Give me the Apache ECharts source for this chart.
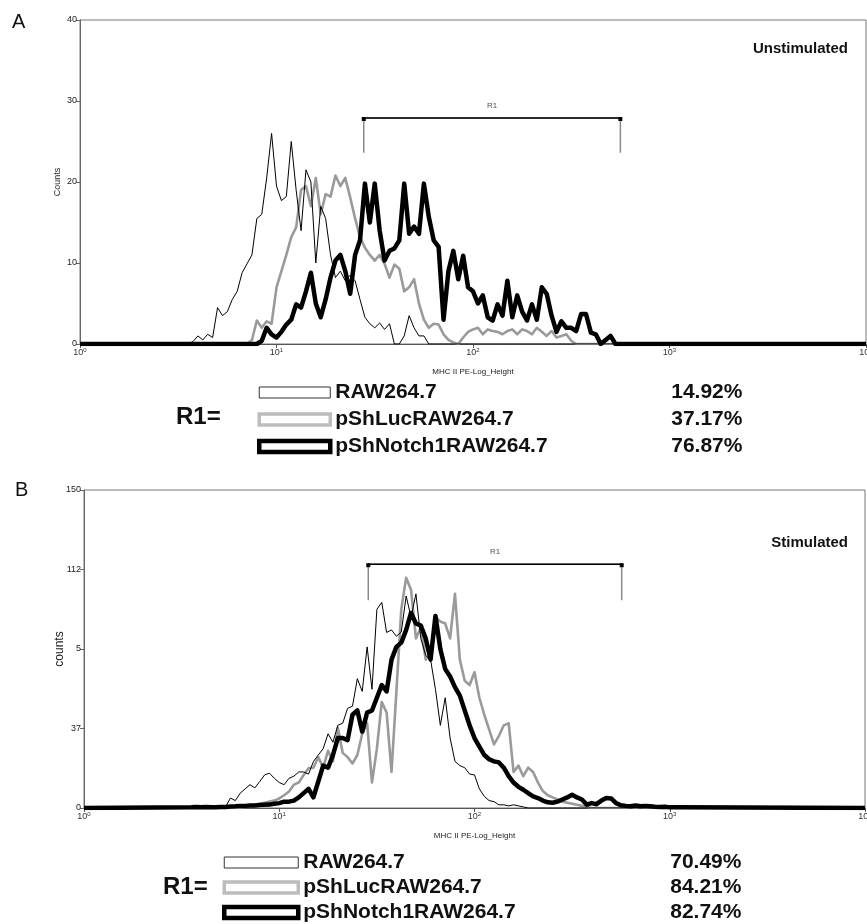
<!DOCTYPE html>
<html>
<head>
<meta charset="utf-8">
<script src="https://cdn.jsdelivr.net/npm/echarts@6/dist/echarts.min.js"></script>
<style>html,body{margin:0;padding:0;background:#fff}#c{width:867px;height:924px}</style>
</head>
<body>
<div id="c"></div>
<script>
// ---- data (x in decades of MHC II PE fluorescence, y in counts) ----
const channels = [0,
 0.55,0.575,0.6,0.625,0.65,0.675,0.7,0.725,0.75,0.775,
 0.8,0.825,0.85,0.875,0.9,0.925,0.95,0.975,1,1.025,
 1.05,1.075,1.1,1.125,1.15,1.175,1.2,1.225,1.25,1.275,
 1.3,1.325,1.35,1.375,1.4,1.425,1.45,1.475,1.5,1.525,
 1.55,1.575,1.6,1.625,1.65,1.675,1.7,1.725,1.75,1.775,
 1.8,1.825,1.85,1.875,1.9,1.925,1.95,1.975,2,2.025,
 2.05,2.075,2.1,2.125,2.15,2.175,2.2,2.225,2.25,2.275,
 2.3,2.325,2.35,2.375,2.4,2.425,2.45,2.475,2.5,2.525,
 2.55,2.575,2.6,2.625,2.65,2.675,2.7,2.725,2.75,2.775,
 2.8,2.825,2.85,2.875,2.9,2.925,2.95,2.975,3,3.025,
 3.05, 4];

const seriesNames = ['RAW264.7', 'pShLucRAW264.7', 'pShNotch1RAW264.7'];

// Panel A: Unstimulated
const rawA = [0,
 0,0.3,1,0.5,1.2,0.8,4.5,3.5,4,5.5,
 6.5,8.8,9.9,11,15.5,16,20.5,26,19.5,17.7,
 18.2,25,19,14,21.5,20,10,17,15.5,11,
 8.2,9,7.8,8.5,7.8,5.5,3.3,2.5,2,2.6,
 1.8,2.5,0,0,1,3.5,2,1,1,0,
 0,0,0,0,0,0,0,0,0,0,
 0,0,0,0,0,0,0,0,0,0,
 0,0,0,0,0,0,0,0,0,0,
 0,0,0,0,0,0,0,0,0,0,
 0,0,0,0,0,0,0,0,0,0,
 0, 0];
const lucA = [0,
 0,0,0,0,0,0,0,0,0,0,
 0,0,0,0.5,2.9,2,2.8,2.5,7,9,
 11,13.2,14.4,19,19.5,17,20.5,16,18.5,18.2,
 20.8,19.5,20.5,18.1,15.5,13.2,11.9,11,10.3,11,
 9.9,8.2,9.8,9.3,6.5,7,8,5,3,2,
 2.5,2.4,1.2,0.5,0.2,0,0.8,1.5,1.8,2,
 1.2,1.8,1.6,1.5,1.2,1.6,1.8,1.2,1.8,1.6,
 1.2,2,1.5,1,1.6,0.8,1,1.2,0.4,0,
 0,0,0,0,0,0,0,0,0,0,
 0,0,0,0,0,0,0,0,0,0,
 0, 0];
const notchA = [0,
 0,0,0,0,0,0,0,0,0,0,
 0,0,0,0,0,0.4,2,1.2,0.8,1.5,
 2.4,3,4.9,4.5,6.5,8.8,5,3.3,5.5,8.2,
 10.3,11,9,6.2,11,12.8,19.8,15,19.8,14,
 10.3,11.5,11.8,12.8,19.8,13.6,14.5,13.6,19.8,15.7,
 12.8,12,3,9,11.5,8,10.9,7,6.5,5,
 6,3.3,2.9,4.9,3.5,7.8,3.3,6,4,2.9,
 4.9,3,7,6.2,3.5,1.5,2.8,2,2,1.6,
 3.7,3.7,1.4,1.2,0,0.5,1,0,0,0,
 0,0,0,0,0,0,0,0,0,0,
 0, 0];
const pctA = ['14.92%', '37.17%', '76.87%'];
const gateSpanA = [1.444, 2.75];     // decades
const gateHeightA = [23.6, 27.9];    // counts (foot, top)

// Panel B: Stimulated
const rawB = [0,
 0,0,0,0,0,0,0,0.5,4.7,3.5,
 7,9,11,9.5,12.5,15.6,16.4,14,12,11,
 14,15,17,17,16,21.9,25,28,35,31,
 39,40,47,48,61,55,76,56,93.7,97,
 82.8,84,81,83,100,90,101,80,72,70,
 56,39,52,33,22,20,19,16,15.6,9,
 5.5,3.5,3,1.5,1.5,1,1.5,1,0.5,0,
 0,0,0,0,0,0,0,0,0,0,
 0,0,0,0,0,0,0,0,0,0,
 0,0,0,0,0,0,0,0,0,0,
 0, 0];
const lucB = [0,
 0,0,0,0,0,0,0,0,0,0,
 0,0.5,1,1.5,2,2.5,3,3.5,4.5,6,
 7.8,11,12,15.6,18.8,19,24,19,27,22,
 38,26,24,21,25,35,40,12,28,50,
 45,17,55,93.7,108.6,103,80,85,70,73,
 90,88,87,80,101,70,60,58,64,52,
 44,37,30,34,39,40,17,20,15,19,
 17,12,8,6,5,4,3,2.5,2,1.5,
 1,0.5,0,0,0,0,0,0,0,0,
 0,0,0,0,0,0,0,0,0,0,
 0, 0];
const notchB = [0,
 0.3,0.5,0.3,0.5,0.3,0.3,0.5,0.5,0.7,0.8,
 1,1,1.2,1.2,1.4,1.5,1.6,2,2.3,3,
 3,3.5,5,7,9,5,12.5,20,19,25,
 33,33,32,44,46,36,45,46,52,58,
 55,70,76,78,84,92,87,86,80,70,
 90.6,75,65.6,62,57,53,46,39,33,29,
 25,23,22,21.5,19,15,12,10,8.6,7,
 5.5,4.7,3.5,2.7,2.5,3,4,5,6.2,5,
 4,1.6,2.3,1.8,3.5,4.7,4.5,2.3,1.3,1,
 0.8,1.2,0.8,1,0.8,0.6,0.5,0.6,0.3,0.3,
 0.3, 0];
const pctB = ['70.49%', '84.21%', '82.74%'];
const gateSpanB = [1.456, 2.754];
const gateHeightB = [98, 115];

const decadeLabels = ['0', '1', '2', '3', '4'];
const yTicksB = ['0', '37', '5', '112', '150'];

// ---- chart ----
const FONT = 'Liberation Sans, Arial, sans-serif';
const chart = echarts.init(document.getElementById('c'), null, {renderer: 'canvas'});

const seriesStyles = [
  {color: '#000000', width: 1, z: 3},
  {color: '#9a9a9a', width: 2.6, z: 2},
  {color: '#000000', width: 4.5, z: 4}
];
const iconStyles = [
  {color: '#ffffff', borderColor: '#333333', borderWidth: 1},
  {color: '#ffffff', borderColor: '#bdbdbd', borderWidth: 3.5},
  {color: '#ffffff', borderColor: '#000000', borderWidth: 4.5}
];

function histSeries(values, k, gi) {
  const st = seriesStyles[k];
  return {
    type: 'line', name: seriesNames[k], xAxisIndex: gi, yAxisIndex: gi,
    data: channels.map((c, i) => [c, values[i]]),
    showSymbol: false, symbol: 'none', smooth: false, animation: false,
    lineStyle: {color: st.color, width: st.width, join: 'round'},
    itemStyle: {color: st.color}, z: st.z, silent: true
  };
}
function gateSeries(span, height, gi) {
  return [
    {type: 'line', xAxisIndex: gi, yAxisIndex: gi, animation: false, silent: true, z: 5,
     data: [[span[0], height[0]], [span[0], height[1]], [span[1], height[1]], [span[1], height[0]]],
     showSymbol: false, symbol: 'none', lineStyle: {color: '#8a8a8a', width: 1.5}},
    {type: 'line', xAxisIndex: gi, yAxisIndex: gi, animation: false, silent: true, z: 6,
     data: [[span[0], height[1]], [span[1], height[1]]],
     symbol: 'rect', symbolSize: 4, symbolOffset: [0, 1], showSymbol: true,
     itemStyle: {color: '#000'}, lineStyle: {color: '#000', width: 1.5}},
    {type: 'scatter', xAxisIndex: gi, yAxisIndex: gi, animation: false, silent: true, z: 6,
     data: [[(span[0] + span[1]) / 2, height[1]]], symbolSize: 0,
     label: {show: true, position: 'top', distance: 8, formatter: 'R1', fontSize: 8, color: '#222', fontFamily: FONT}}
  ];
}
function xAxis(gi) {
  return {
    type: 'value', gridIndex: gi, min: 0, max: 4, interval: 1,
    axisLine: {show: true, onZero: false, lineStyle: {color: '#555', width: 1}},
    axisTick: {show: true, length: 4, lineStyle: {color: '#555'}},
    splitLine: {show: false},
    axisLabel: {
      margin: 3, color: '#333', fontFamily: FONT,
      formatter: v => '{a|10}{b|' + decadeLabels[v] + '}',
      rich: {a: {fontSize: 9, lineHeight: 11, fontFamily: FONT, color: '#333'},
             b: {fontSize: 6, lineHeight: 11, verticalAlign: 'top', fontFamily: FONT, color: '#333'}}
    },
    name: 'MHC II PE-Log_Height', nameLocation: 'middle', nameGap: 24, nameMoveOverlap: false,
    nameTextStyle: {fontSize: 8, color: '#222', fontFamily: FONT}
  };
}
function legend(pcts, left, top, gap, iconW, nameW) {
  return {
    orient: 'vertical', left: left, top: top, padding: 0, itemGap: gap,
    itemWidth: iconW, itemHeight: 11, icon: 'rect', selectedMode: false,
    data: seriesNames.map((n, i) => ({name: n, itemStyle: iconStyles[i]})),
    formatter: n => '{n|' + n + '}{p|' + pcts[seriesNames.indexOf(n)] + '}',
    textStyle: {
      rich: {
        n: {width: nameW, fontSize: 21, fontWeight: 'bold', fontFamily: FONT, color: '#111'},
        p: {fontSize: 21, fontWeight: 'bold', fontFamily: FONT, color: '#111'}
      }
    }
  };
}

const option = {
  backgroundColor: '#fff',
  animation: false,
  grid: [
    {left: 80, top: 20, width: 786, height: 324, show: true, borderColor: '#777', borderWidth: 1,
     outerBoundsMode: 'none', containLabel: false},
    {left: 84, top: 490, width: 781, height: 318, show: true, borderColor: '#777', borderWidth: 1,
     outerBoundsMode: 'none', containLabel: false}
  ],
  xAxis: [xAxis(0), xAxis(1)],
  yAxis: [
    {type: 'value', gridIndex: 0, min: 0, max: 40, interval: 10,
     axisLine: {show: true, lineStyle: {color: '#666'}}, axisTick: {show: true, length: 4, lineStyle: {color: '#666'}},
     splitLine: {show: false},
     axisLabel: {fontSize: 9, margin: 3, color: '#222', fontFamily: FONT},
     name: 'Counts', nameLocation: 'middle', nameGap: 18, nameMoveOverlap: false,
     nameTextStyle: {fontSize: 9, color: '#222', fontFamily: FONT}},
    {type: 'value', gridIndex: 1, min: 0, max: 150, interval: 37.5,
     axisLine: {show: true, lineStyle: {color: '#666'}}, axisTick: {show: true, length: 4, lineStyle: {color: '#666'}},
     splitLine: {show: false},
     axisLabel: {fontSize: 9, margin: 3, color: '#222', fontFamily: FONT,
                 formatter: v => yTicksB[Math.round(v / 37.5)]},
     name: 'counts', nameLocation: 'middle', nameGap: 18, nameMoveOverlap: false,
     nameTextStyle: {fontSize: 12, color: '#222', fontFamily: FONT}}
  ],
  legend: [
    legend(pctA, 257, 382, 6, 71, 336),
    legend(pctB, 222, 852, 4, 74, 367)
  ],
  series: [
    histSeries(lucA, 1, 0), histSeries(rawA, 0, 0), histSeries(notchA, 2, 0),
    ...gateSeries(gateSpanA, gateHeightA, 0),
    histSeries(lucB, 1, 1), histSeries(rawB, 0, 1), histSeries(notchB, 2, 1),
    ...gateSeries(gateSpanB, gateHeightB, 1)
  ],
  graphic: [
    {type: 'text', left: 12, top: 12, style: {text: 'A', fontSize: 20, fontFamily: FONT, fill: '#111'}},
    {type: 'text', left: 15, top: 480, style: {text: 'B', fontSize: 20, fontFamily: FONT, fill: '#111'}},
    {type: 'text', right: 19, top: 41, style: {text: 'Unstimulated', fontSize: 15, fontWeight: 'bold', fontFamily: FONT, fill: '#111'}},
    {type: 'text', right: 19, top: 535, style: {text: 'Stimulated', fontSize: 15, fontWeight: 'bold', fontFamily: FONT, fill: '#111'}},
    {type: 'text', left: 176, top: 405, style: {text: 'R1=', fontSize: 24, fontWeight: 'bold', fontFamily: FONT, fill: '#111'}},
    {type: 'text', left: 163, top: 875, style: {text: 'R1=', fontSize: 24, fontWeight: 'bold', fontFamily: FONT, fill: '#111'}}
  ]
};
chart.setOption(option);
</script>
</body>
</html>
